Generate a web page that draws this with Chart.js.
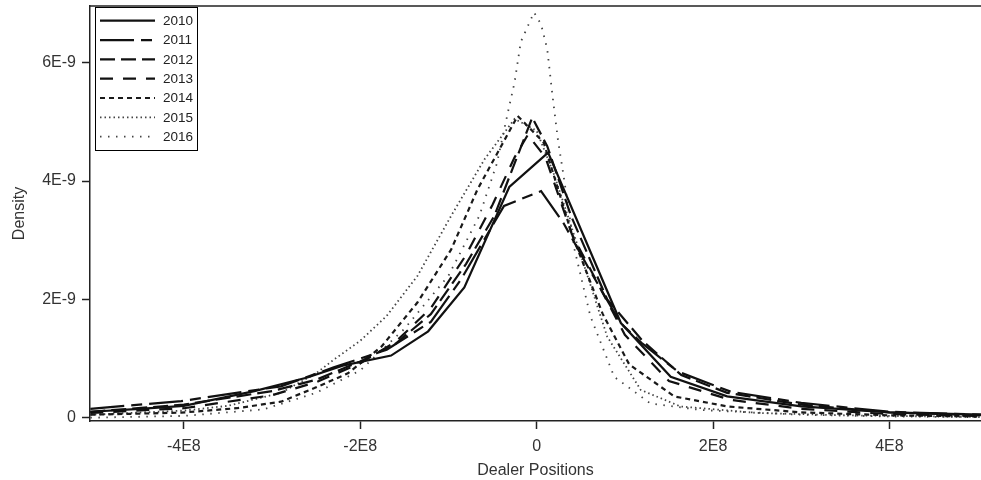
<!DOCTYPE html>
<html>
<head>
<meta charset="utf-8">
<script src="https://cdn.jsdelivr.net/npm/chart.js@4"></script>
<style>
  body { margin: 0; background: #fff; }
</style>
</head>
<body>
<canvas id="density-chart" width="981" height="480"></canvas>
<script>
// x in units of 1E8, density in units of 1E-9

const years = ['2010', '2011', '2012', '2013', '2014', '2015', '2016'];

const x2010 = [-5.06, -4.5, -4.0, -3.2, -2.6, -2.2, -1.65, -1.23, -0.82, -0.31, 0.13, 0.955, 1.52, 2.16, 3.0, 4.0, 5.04];
const d2010 = [0.10, 0.15, 0.20, 0.45, 0.68, 0.88, 1.05, 1.46, 2.20, 3.90, 4.48, 1.60, 0.69, 0.36, 0.19, 0.09, 0.05];

const x2011 = [-5.06, -4.03, -2.9, -2.3, -1.7, -1.2, -0.86, -0.37, 0.05, 0.3, 0.6, 0.95, 1.2, 1.6, 2.2, 3.0, 4.0, 5.04];
const d2011 = [0.15, 0.28, 0.53, 0.85, 1.15, 1.62, 2.33, 3.58, 3.83, 3.3, 2.5, 1.6, 1.25, 0.78, 0.44, 0.25, 0.10, 0.05];

const x2012 = [-5.06, -4.0, -3.0, -2.5, -2.0, -1.6, -1.2, -0.8, -0.48, -0.05, 0.12, 0.39, 0.8, 1.2, 1.64, 2.16, 3.0, 4.0, 5.04];
const d2012 = [0.10, 0.22, 0.45, 0.64, 0.95, 1.25, 1.75, 2.6, 3.41, 5.07, 4.59, 3.41, 2.0, 1.3, 0.72, 0.42, 0.22, 0.09, 0.04];

const x2013 = [-5.06, -4.0, -3.0, -2.5, -2.0, -1.6, -1.2, -0.8, -0.5, -0.25, -0.1, 0.1, 0.4, 1.0, 1.5, 2.2, 3.0, 4.0, 5.04];
const d2013 = [0.08, 0.16, 0.38, 0.60, 0.92, 1.28, 1.85, 2.75, 3.6, 4.4, 4.78, 4.4, 3.1, 1.4, 0.62, 0.30, 0.15, 0.06, 0.03];

const x2014 = [-5.06, -4.03, -3.4, -2.9, -2.52, -2.14, -1.76, -1.35, -0.97, -0.67, -0.215, 0.08, 0.4, 0.75, 1.05, 1.56, 2.16, 3.0, 4.0, 5.04];
const d2014 = [0.05, 0.085, 0.16, 0.27, 0.5, 0.75, 1.2, 1.95, 2.84, 3.86, 5.10, 4.65, 3.1, 1.75, 0.9, 0.36, 0.19, 0.09, 0.04, 0.02];

const x2015 = [-5.06, -4.0, -3.5, -2.9, -2.5, -2.3, -2.0, -1.7, -1.35, -0.97, -0.59, -0.25, 0.0, 0.2, 0.5, 0.8, 1.18, 1.63, 2.5, 3.5, 5.04];
const d2015 = [0.05, 0.12, 0.2, 0.42, 0.75, 0.98, 1.3, 1.72, 2.4, 3.41, 4.37, 5.05, 4.85, 4.1, 2.75, 1.37, 0.47, 0.19, 0.08, 0.04, 0.01];

const x2016 = [-5.06, -4.0, -3.1, -2.5, -2.0, -1.5, -1.0, -0.65, -0.45, -0.31, -0.25, -0.18, -0.03, 0.05, 0.12, 0.18, 0.24, 0.30, 0.43, 0.61, 0.88, 1.29, 1.86, 3.0, 4.0, 5.04];
const d2016 = [0.0, 0.03, 0.14, 0.42, 0.8, 1.5, 2.4, 3.41, 4.3, 5.27, 5.67, 6.35, 6.85, 6.65, 6.23, 5.44, 4.71, 4.14, 2.84, 1.71, 0.69, 0.24, 0.13, 0.05, 0.02, 0.01];

const xTicks = [-4, -2, 0, 2, 4];
const yTicks = [0, 2, 4, 6];

const seriesX = [x2010, x2011, x2012, x2013, x2014, x2015, x2016];
const seriesY = [d2010, d2011, d2012, d2013, d2014, d2015, d2016];

// line patterns copied from the legend swatches
const styles = [
    { dash: [],             width: 2.2, color: '#111' },
    { dash: [34, 7, 11, 7], width: 2.2, color: '#111' },
    { dash: [15, 6],        width: 2.2, color: '#111' },
    { dash: [13, 10],       width: 2.2, color: '#111' },
    { dash: [5, 4],         width: 2.2, color: '#1a1a1a' },
    { dash: [1.5, 3],       width: 1.8, color: '#444' },
    { dash: [1.5, 6.5],     width: 1.8, color: '#444' }
];

Chart.defaults.font.family = "'Liberation Sans', Arial, sans-serif";
Chart.defaults.font.size = 16;
Chart.defaults.color = '#333';

const datasets = years.map((yr, i) => ({
    label: yr,
    data: seriesX[i].map((x, k) => ({ x: x, y: seriesY[i][k] })),
    showLine: true,
    borderColor: styles[i].color,
    borderWidth: styles[i].width,
    borderDash: styles[i].dash,
    pointRadius: 0,
    tension: 0,
    fill: false
}));

// legend box + top frame line, drawn by hand
const frameLegend = {
    id: 'frameLegend',
    afterDatasetsDraw(chart) {
        const ctx = chart.ctx;
        const area = chart.chartArea;
        ctx.save();
        ctx.strokeStyle = '#222';
        ctx.lineWidth = 1.5;
        ctx.beginPath();
        ctx.moveTo(area.left, area.top);
        ctx.lineTo(area.right, area.top);
        ctx.stroke();

        ctx.fillStyle = '#fff';
        ctx.fillRect(95.5, 7.5, 102, 143);
        ctx.strokeStyle = '#000';
        ctx.lineWidth = 1;
        ctx.strokeRect(95.5, 7.5, 102, 143);

        ctx.font = "13.5px 'Liberation Sans', Arial, sans-serif";
        ctx.textBaseline = 'middle';
        ctx.textAlign = 'left';
        years.forEach((yr, i) => {
            const y = 20.7 + i * 19.33;
            ctx.strokeStyle = styles[i].color;
            ctx.lineWidth = styles[i].width;
            ctx.setLineDash(styles[i].dash);
            ctx.beginPath();
            ctx.moveTo(100, y);
            ctx.lineTo(155, y);
            ctx.stroke();
            ctx.setLineDash([]);
            ctx.fillStyle = '#222';
            ctx.fillText(yr, 163, y + 0.5);
        });
        ctx.restore();
    }
};

new Chart(document.getElementById('density-chart'), {
    type: 'scatter',
    data: { datasets: datasets },
    options: {
        responsive: false,
        devicePixelRatio: 1,
        animation: false,
        layout: { padding: { top: 6, right: 0, bottom: 0, left: 0 } },
        plugins: {
            legend: { display: false },
            tooltip: { enabled: false }
        },
        scales: {
            x: {
                type: 'linear',
                min: -5.064,
                max: 5.038,
                afterBuildTicks: (scale) => { scale.ticks = xTicks.map(v => ({ value: v })); },
                afterFit: (scale) => {
                    scale.height = 59;
                    scale.paddingLeft = 0;
                    scale.paddingRight = 0;
                },
                ticks: {
                    padding: 8,
                    color: '#333',
                    callback: (v) => v === 0 ? '0' : v + 'E8'
                },
                grid: { drawOnChartArea: false, tickLength: 8, tickColor: '#222', tickWidth: 1.5 },
                border: { display: true, color: '#222', width: 1.5 },
                title: { display: true, text: 'Dealer Positions', color: '#333', padding: { top: 0, bottom: 0 } }
            },
            y: {
                min: -0.056,
                max: 6.958,
                afterBuildTicks: (scale) => { scale.ticks = yTicks.map(v => ({ value: v })); },
                afterFit: (scale) => {
                    scale.width = 90;
                    scale.paddingTop = 0;
                    scale.paddingBottom = 0;
                },
                ticks: {
                    padding: 6,
                    color: '#333',
                    callback: (v) => v === 0 ? '0' : v + 'E-9'
                },
                grid: { drawOnChartArea: false, tickLength: 8, tickColor: '#222', tickWidth: 1.5 },
                border: { display: true, color: '#222', width: 1.5 },
                title: { display: true, text: 'Density', color: '#333', padding: { top: 10, bottom: 0 } }
            }
        }
    },
    plugins: [frameLegend]
});
</script>
</body>
</html>
